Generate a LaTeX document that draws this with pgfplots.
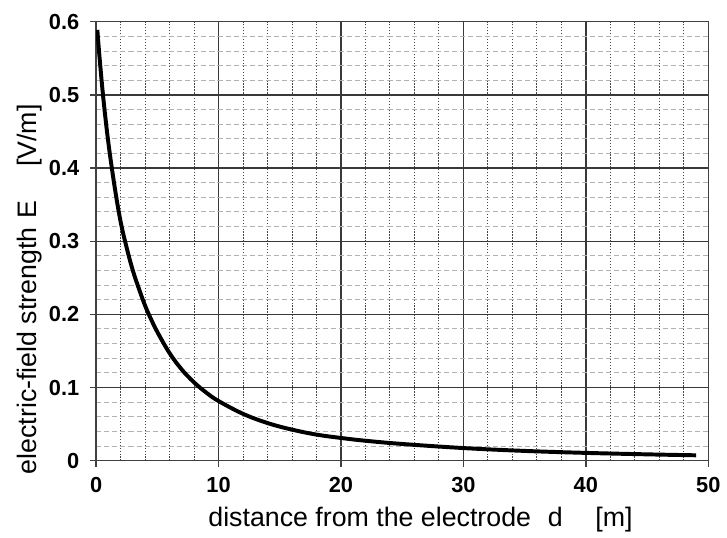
\documentclass[border=0pt]{standalone}
\usepackage{fontspec}
\setmainfont{Liberation Sans}
\usepackage{pgfplots}
\pgfplotsset{compat=1.18}

\begin{document}
\begin{tikzpicture}
\begin{axis}[
    name=ax,
    scale only axis,
    width=309bp, height=221.5bp,
    xmin=0, xmax=50,
    ymin=0, ymax=0.6,
    xtick={0,10,...,50},
    ytick={0,0.1,...,0.6},
    minor x tick num=4,
    minor y tick num=4,
    grid=both,
    major grid style={gray!45!black, line width=0.7pt},
    minor x grid style={gray!55!black, line width=0.5pt, dash pattern=on 0.6pt off 0.9pt},
    minor y grid style={gray!60, line width=0.5pt, dash pattern=on 2.6pt off 1.5pt},
    axis line style={gray!50!black, line width=0.7pt},
    tick style={gray!50!black, line width=0.7pt},
    major tick length=3bp,
    minor tick length=0pt,
    tick align=outside,
    xtick pos=bottom, ytick pos=left,
    /pgf/number format/assume math mode=true,
    yticklabel style={/pgf/number format/fixed, /pgf/number format/precision=1, xshift=-2bp},
    xticklabel style={yshift=-2bp},
    ticklabel style={font=\fontsize{11bp}{12bp}\selectfont\bfseries},
    every axis x label/.style={at={(axis description cs:0,0)}, anchor=base west, inner sep=0pt,
        xshift=56.5bp, yshift=-33bp, font=\fontsize{13.5bp}{15bp}\selectfont},
    every axis y label/.style={at={(axis description cs:0,0)}, xshift=-30bp, yshift=-7bp,
        rotate=90, anchor=base west, inner sep=0pt, font=\fontsize{13.5bp}{15bp}\selectfont},
    xlabel={distance from the electrode\hspace{8.5bp}d\hspace{16.5bp}[m]},
    ylabel={electric-field strength\hspace{4.5bp}E\hspace{17bp}[V/m]},
]
\addplot[black, line width=2pt, smooth, tension=0.6] coordinates {
    (0.1,0.589)(0.3,0.548)(0.6,0.494)(1.0,0.435)(1.5,0.376)(2.0,0.327)
    (2.5,0.291)(3.0,0.260)(3.5,0.235)(4.0,0.212)(4.5,0.193)(5.0,0.176)
    (6.0,0.147)(7.0,0.1245)(8.0,0.107)(9.0,0.093)(10,0.0815)(12,0.064)
    (14,0.0514)(16,0.0424)(18,0.0356)(20,0.031)(22,0.0272)(25,0.0228)
    (30,0.0172)(35,0.0133)(40,0.0106)(45,0.0086)(49,0.0073)
};
\end{axis}
\path (ax.south west) ++(-48.5bp,-39bp) (ax.north east) ++(6bp,11bp);
\end{tikzpicture}
\end{document}
